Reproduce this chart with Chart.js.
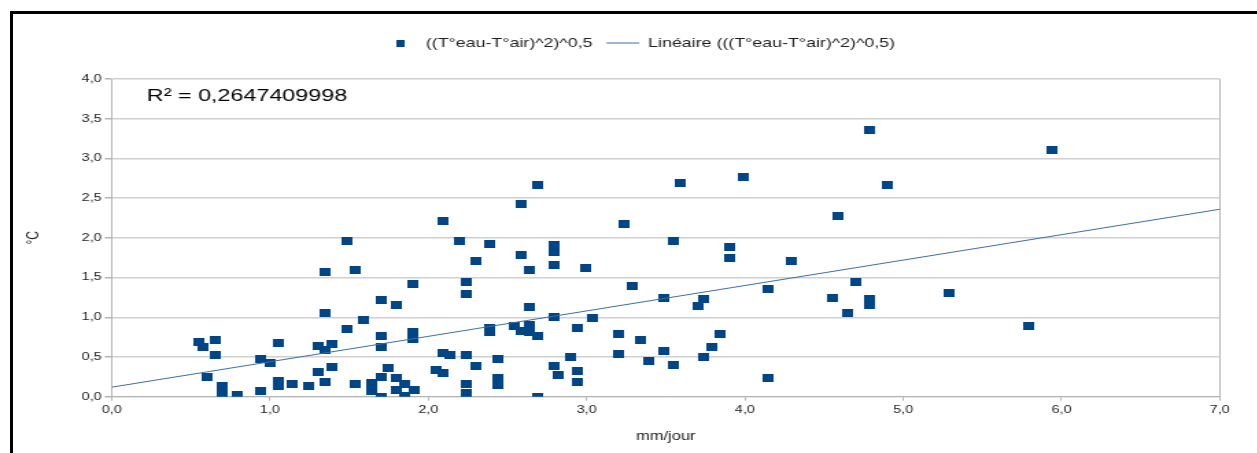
<!DOCTYPE html>
<html>
<head>
<meta charset="utf-8">
<script src="https://cdn.jsdelivr.net/npm/chart.js@4.4.0/dist/chart.umd.min.js"></script>
<style>
  html, body { margin: 0; padding: 0; background: #fff; }
  body { width: 1257px; height: 453px; position: relative; overflow: hidden; }
  /* the source picture is stretched sideways, so the chart is drawn narrow and scaled */
  #wrap { position: absolute; left: 0; top: 0; width: 917.5px; height: 453px; transform: scaleX(1.37); transform-origin: 0 0; }
  #frame { position: absolute; left: 10px; top: 11px; right: 0; bottom: 0; border-top: 3px solid #000; border-left: 3px solid #000; }
</style>
</head>
<body>
<div id="wrap"><canvas id="chart"></canvas></div>
<div id="frame"></div>
<script>
// values
const rainfall = [
  0.55, 0.58, 0.65, 0.65, 0.60, 0.70, 0.70, 0.79, 0.94, 1.00,
  1.05, 0.94, 1.05, 1.05, 1.14, 1.24, 1.30, 1.30, 1.35, 1.35,
  1.35, 1.39, 1.39, 1.35, 1.49, 1.49, 1.54, 1.54, 1.59, 1.70,
  1.70, 1.70, 1.64, 1.64, 1.70, 1.70, 1.75, 1.80, 1.80, 1.80,
  1.85, 1.85, 1.90, 1.90, 1.90, 1.91,
  2.69, 2.59, 2.09, 3.24, 2.20, 2.39, 2.59, 2.79, 2.79, 2.30,
  2.64, 2.79, 2.99, 2.24, 2.24, 3.29, 2.64, 2.79, 3.04, 2.39,
  2.39, 2.54, 2.59, 2.64, 2.64, 2.69, 2.94, 3.20, 3.34, 2.09,
  2.14, 2.24, 2.44, 2.90, 3.20, 3.39, 2.30, 2.79, 2.05, 2.09,
  2.82, 2.94, 2.24, 2.24, 2.44, 2.44, 2.94, 2.69,
  3.59, 3.99, 4.90, 4.59, 3.55, 3.90, 3.90, 4.29, 3.49, 3.74,
  3.70, 4.15, 4.55, 4.70, 4.65, 4.79, 4.79, 3.49, 3.55, 3.74,
  3.79, 3.84, 4.15,
  4.79, 5.94, 5.29, 5.79
];
const tempDiff = [
  0.69, 0.63, 0.71, 0.53, 0.25, 0.13, 0.05, 0.02, 0.47, 0.43,
  0.67, 0.07, 0.20, 0.14, 0.16, 0.14, 0.64, 0.31, 1.57, 1.05,
  0.59, 0.66, 0.37, 0.19, 1.96, 0.85, 1.60, 0.16, 0.97, 1.22,
  0.77, 0.62, 0.17, 0.07, 0.25, 0.00, 0.36, 1.15, 0.24, 0.08,
  0.16, 0.01, 1.42, 0.81, 0.73, 0.08,
  2.66, 2.43, 2.21, 2.17, 1.96, 1.92, 1.79, 1.91, 1.82, 1.71,
  1.60, 1.66, 1.62, 1.45, 1.29, 1.40, 1.13, 1.00, 0.99, 0.87,
  0.81, 0.89, 0.83, 0.90, 0.82, 0.76, 0.87, 0.79, 0.71, 0.55,
  0.53, 0.52, 0.47, 0.50, 0.54, 0.45, 0.39, 0.39, 0.34, 0.30,
  0.27, 0.32, 0.16, 0.05, 0.24, 0.15, 0.18, 0.00,
  2.69, 2.77, 2.66, 2.28, 1.96, 1.88, 1.75, 1.71, 1.24, 1.23,
  1.14, 1.35, 1.24, 1.44, 1.05, 1.23, 1.16, 0.58, 0.40, 0.50,
  0.63, 0.79, 0.24,
  3.36, 3.11, 1.30, 0.89
];
const trendX = [0, 7];
const trendY = [0.12, 2.36];

const seriesLabel = "((T°eau-T°air)^2)^0,5";
const trendLabel = "Linéaire (((T°eau-T°air)^2)^0,5)";
const r2Text = "R² = 0,2647409998";
const xTitle = "mm/jour";
const yTitle = "°C";

const FONT = "'Liberation Sans', Arial, sans-serif";
const BLUE = "#004586";

function box(w, h, color){
  const c = document.createElement("canvas");
  c.width = w;
  c.height = h;
  const g = c.getContext("2d");
  g.fillStyle = color;
  g.fillRect(0, 0, w, h);
  return c;
}
const marker = box(8, 8, BLUE);
const legendMarker = box(6, 7, BLUE);

const fmt = v => Number(v).toFixed(1).replace(".", ",");

// more room under the legend
const legendSpacer = {
  id: "legendSpacer",
  beforeInit(chart){
    const fit = chart.legend.fit;
    chart.legend.fit = function(){
      fit.call(this);
      this.height += 19.5;
    };
  }
};

const r2Label = {
  id: "r2Label",
  afterDraw(chart){
    const {ctx, chartArea} = chart;
    ctx.save();
    ctx.font = "17px " + FONT;
    ctx.fillStyle = "#000";
    ctx.textBaseline = "alphabetic";
    ctx.fillText(r2Text, chartArea.left + 25.6, chartArea.top + 22);
    ctx.restore();
  }
};

const chart = new Chart(document.getElementById("chart"), {
  type: "scatter",
  data: {
    datasets: [
      {
        label: seriesLabel,
        data: rainfall.map((x, i) => ({x: x, y: tempDiff[i]})),
        pointStyle: marker,
        pointRadius: 4,
        backgroundColor: BLUE,
        borderColor: BLUE,
        order: 1
      },
      {
        label: trendLabel,
        data: trendX.map((x, i) => ({x: x, y: trendY[i]})),
        showLine: true,
        pointRadius: 0,
        pointStyle: "line",
        borderColor: "#3a6fa5",
        backgroundColor: "#3a6fa5",
        borderWidth: 1,
        order: 0
      }
    ]
  },
  options: {
    responsive: true,
    maintainAspectRatio: false,
    animation: false,
    events: [],
    layout: { padding: { top: 26.5, left: 43.2, right: 28.1, bottom: 0 } },
    plugins: {
      legend: {
        position: "top",
        labels: {
          usePointStyle: true,
          pointStyleWidth: 24,
          padding: 10,
          color: "#222",
          font: { family: FONT, size: 13 },
          generateLabels(chart){
            const items = Chart.defaults.plugins.legend.labels.generateLabels(chart);
            items.sort((a, b) => a.datasetIndex - b.datasetIndex);
            items.forEach(it => {
              if(it.datasetIndex === 0){
                it.pointStyle = legendMarker;
              }
            });
            return items;
          }
        }
      },
      tooltip: { enabled: false }
    },
    scales: {
      x: {
        type: "linear",
        min: 0,
        max: 7,
        afterFit(scale){ scale.height = 56.3; },
        ticks: { stepSize: 1, callback: fmt, color: "#222", padding: 3, maxRotation: 0, font: { family: FONT, size: 10.5 } },
        grid: {
          color: ctx => (ctx.tick && ctx.tick.value === 7) ? "#b3b3b3" : "rgba(0,0,0,0)",
          tickColor: "#b3b3b3",
          tickLength: 4
        },
        border: { color: "#b3b3b3" },
        title: { display: true, text: xTitle, color: "#222", font: { family: FONT, size: 12 }, padding: { top: 0, bottom: 8.8 } }
      },
      y: {
        min: 0,
        max: 4,
        afterFit(scale){ scale.width = 38.3; },
        ticks: { stepSize: 0.5, callback: fmt, color: "#222", padding: 2.3, font: { family: FONT, size: 10.5 } },
        grid: { color: "#d0d0d0", lineWidth: 1.5, tickColor: "#b3b3b3", tickLength: 5 },
        border: { color: "#b3b3b3" },
        title: { display: true, text: yTitle, color: "#222", font: { family: FONT, size: 12 }, padding: { top: -25.9, bottom: 0 } }
      }
    }
  },
  plugins: [legendSpacer, r2Label]
});
</script>
</body>
</html>
